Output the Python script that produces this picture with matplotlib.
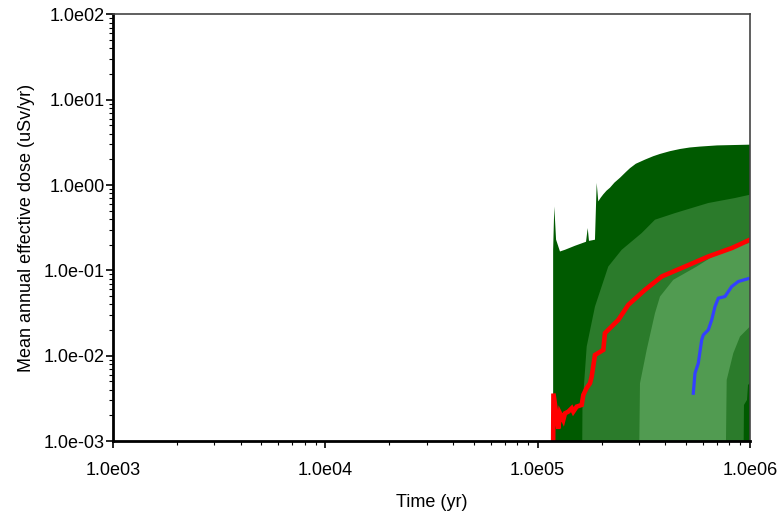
import numpy as np
import matplotlib
matplotlib.use("Agg")
import matplotlib.pyplot as plt
from matplotlib.ticker import LogLocator, FuncFormatter, NullFormatter

plt.rcParams['font.family'] = ['Liberation Sans', 'DejaVu Sans']

# percentile bands of the dose (uSv/yr) vs time (yr)
t_outer_hi = [1.183e5, 1.198e5, 1.221e5, 1.274e5, 1.345e5, 1.499e5, 1.690e5, 1.721e5, 1.745e5,
              1.862e5, 1.897e5, 1.930e5, 1.98e5, 2.038e5, 2.11e5, 2.191e5, 2.30e5, 2.443e5,
              2.60e5, 2.722e5, 2.90e5, 3.203e5, 3.50e5, 3.769e5, 4.20e5, 4.682e5, 5.20e5,
              5.815e5, 7.0e5, 1.0e6]
d_outer_hi = [0.1745, 0.562, 0.23, 0.1667, 0.1745, 0.1945, 0.2167, 0.3138, 0.222,
              0.229, 1.06, 0.644, 0.71, 0.78, 0.86, 0.932, 1.07, 1.22,
              1.42, 1.58, 1.78, 1.99, 2.18, 2.32, 2.50, 2.65, 2.76,
              2.83, 2.92, 2.98]

t_mid_hi = [1.612e5, 1.626e5, 1.702e5, 1.862e5, 2.075e5, 2.151e5, 2.488e5, 3.090e5, 3.569e5,
            4.436e5, 6.365e5, 8.501e5, 1.0e6]
d_mid_hi = [1e-4, 2.53e-3, 1.28e-2, 3.77e-2, 8.48e-2, 0.111, 0.1745, 0.274, 0.393,
            0.470, 0.617, 0.706, 0.772]
t_mid_lo = [1.612e5, 9.268e5, 9.37e5, 9.68e5, 9.79e5, 1.0e6]
d_mid_lo = [1e-4, 1e-4, 2.65e-3, 3.03e-3, 4.54e-3, 4.8e-3]

t_in_hi = [2.979e5, 3.034e5, 3.262e5, 3.569e5, 3.769e5, 4.354e5, 5.611e5, 7.487e5, 1.0e6]
d_in_hi = [1e-4, 4.75e-3, 1.17e-2, 3.15e-2, 4.94e-2, 7.76e-2, 0.111, 0.1745, 0.211]
t_in_lo = [2.979e5, 7.624e5, 7.769e5, 8.344e5, 8.975e5, 1.0e6]
d_in_lo = [1e-4, 1e-4, 5.2e-3, 1.07e-2, 1.68e-2, 2.2e-2]

# mean (red) and median (blue)
t_mean = [1.183e5, 1.187e5, 1.251e5, 1.274e5, 1.32e5, 1.345e5, 1.394e5, 1.447e5, 1.472e5,
          1.527e5, 1.612e5, 1.641e5, 1.702e5, 1.764e5, 1.797e5, 1.862e5, 2.038e5, 2.075e5,
          2.398e5, 2.673e5, 3.203e5, 3.839e5, 4.941e5, 6.365e5, 8.202e5, 1.0e6]
d_mean = [9e-4, 3.6e-3, 1.4e-3, 2.11e-3, 1.76e-3, 2.11e-3, 2.21e-3, 2.42e-3, 2.21e-3,
          2.53e-3, 2.65e-3, 3.47e-3, 4.19e-3, 4.75e-3, 5.69e-3, 1.02e-2, 1.17e-2, 1.84e-2,
          2.63e-2, 3.95e-2, 5.92e-2, 8.48e-2, 0.111, 0.1456, 0.1827, 0.229]

t_median = [5.408e5, 5.508e5, 5.709e5, 5.924e5, 6.027e5, 6.365e5, 6.603e5, 6.843e5, 7.093e5,
            7.624e5, 8.202e5, 8.810e5, 1.0e6]
d_median = [3.63e-3, 6.23e-3, 8.17e-3, 1.53e-2, 1.75e-2, 2.01e-2, 2.63e-2, 3.77e-2, 4.73e-2,
            4.94e-2, 6.47e-2, 7.41e-2, 8.12e-2]

floor = 1e-4

fig = plt.figure(figsize=(7.84, 5.16), dpi=100)
ax = fig.add_axes([0.1441, 0.1453, 0.8125, 0.8266])
ax.set_xscale('log')
ax.set_yscale('log')

def band(t_hi, d_hi, t_lo, d_lo, color):
    xs = list(t_hi) + list(t_lo)[::-1]
    ys = list(d_hi) + list(d_lo)[::-1]
    ax.fill(xs, ys, color=color, lw=0)

band(t_outer_hi, d_outer_hi, [t_outer_hi[0], t_outer_hi[-1]], [floor, floor], '#005a00')
band(t_mid_hi, d_mid_hi, t_mid_lo, d_mid_lo, '#2b7b2b')
band(t_in_hi, d_in_hi, t_in_lo, d_in_lo, '#519b51')

ax.plot(t_mean, d_mean, color='#ff0000', lw=3.3, solid_joinstyle='miter')
ax.plot(t_median, d_median, color='#3340ff', lw=2.3)

ax.set_xlim(1e3, 1e6)
ax.set_ylim(1e-3, 1e2)

fmt = FuncFormatter(lambda v, p: '%.1fe%s%02d' % (1.0, '-' if v < 1 else '', abs(int(round(np.log10(v))))))
for axis in (ax.xaxis, ax.yaxis):
    axis.set_major_locator(LogLocator(base=10, numticks=10))
    axis.set_minor_locator(LogLocator(base=10, subs=np.arange(2, 10), numticks=20))
    axis.set_major_formatter(fmt)
    axis.set_minor_formatter(NullFormatter())

ax.tick_params(which='major', direction='out', length=5, width=1.2, labelsize=13, pad=1,
               top=False, right=False)
ax.tick_params(which='minor', direction='out', length=3, width=0.8, top=False, right=False)
ax.tick_params(axis='x', which='major', pad=10)

for s in ('left', 'bottom'):
    ax.spines[s].set_linewidth(2)
    ax.spines[s].set_color('black')
for s in ('top', 'right'):
    ax.spines[s].set_linewidth(1.2)
    ax.spines[s].set_color('#444444')

ax.set_xlabel('Time (yr)', fontsize=13, labelpad=11)
ax.set_ylabel('Mean annual effective dose (uSv/yr)', fontsize=13, labelpad=6)

fig.savefig('out.png', dpi=100)
